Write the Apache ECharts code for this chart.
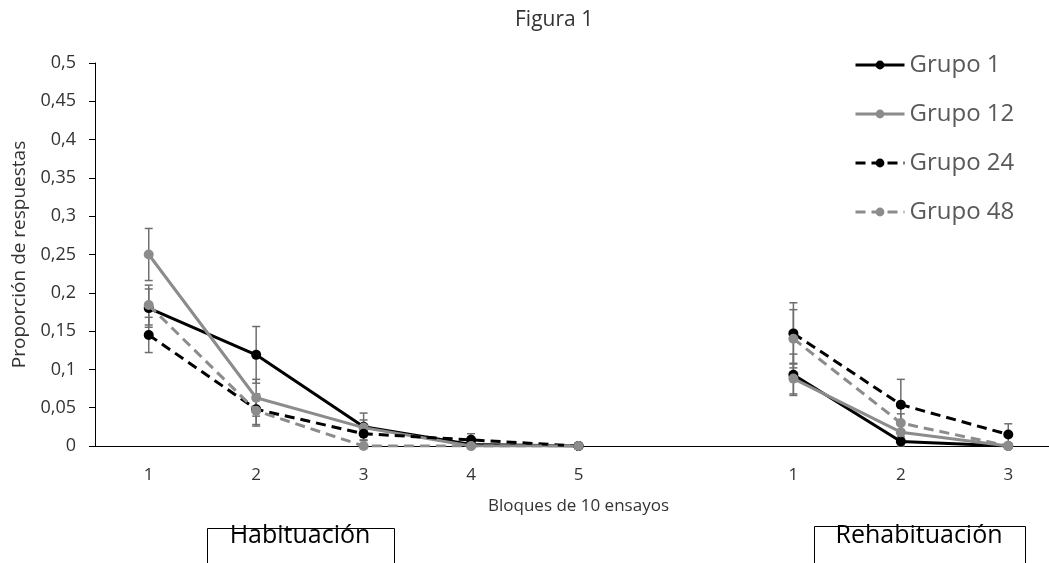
<!DOCTYPE html>
<html><head><meta charset="utf-8">
<script src="https://cdn.jsdelivr.net/npm/echarts@6/dist/echarts.min.js"></script>
<style>html,body{margin:0;padding:0;background:#fff}#c{width:1049px;height:563px}</style>
</head><body><div id="c"></div>
<script>
// Categories: Habituación blocks 1-5, blank spacer, Rehabituación blocks 1-3
const categories = ['1', '2', '3', '4', '5', '', '1', '2', '3'];
const seriesNames = ['Grupo 1', 'Grupo 12', 'Grupo 24', 'Grupo 48'];

const grupo1  = [0.180, 0.119, 0.025, 0.002, 0, '-', 0.093, 0.006, 0];
const grupo12 = [0.250, 0.063, 0.024, 0,     0, '-', 0.088, 0.018, 0];
const grupo24 = [0.145, 0.048, 0.016, 0.008, 0, '-', 0.147, 0.054, 0.015];
const grupo48 = [0.184, 0.046, 0,     0,     0, '-', 0.140, 0.030, 0];

// Error bar half-lengths (symmetric)
const err1  = [0.025, 0.037, 0.018, 0,     0, '-', 0.027, 0.006, 0];
const err12 = [0.034, 0.024, 0.010, 0,     0, '-', 0.020, 0.010, 0];
const err24 = [0.023, 0.020, 0.008, 0.008, 0, '-', 0.040, 0.033, 0.014];
const err48 = [0.026, 0.020, 0,     0,     0, '-', 0.038, 0.012, 0];

const FONT = '"Open Sans", "Noto Sans", sans-serif';
const BLACK = '#000000';
const GRAY = '#8c8c8c';
const ERR = '#6e6e6e';

const values = [grupo1, grupo12, grupo24, grupo48];
const errors = [err1, err12, err24, err48];
const colors = [BLACK, GRAY, BLACK, GRAY];
const dashes = ['solid', 'solid', [10, 6], [10, 6]];

function errData(vals, errs) {
  const out = [];
  vals.forEach(function (v, i) {
    if (v === '-' || !errs[i]) return;
    out.push([i, v - errs[i], v + errs[i]]);
  });
  return out;
}

function renderErr(params, api) {
  const x = api.value(0);
  const pHi = api.coord([x, api.value(2)]);
  const pLo = api.coord([x, api.value(1)]);
  const w = 4;
  const st = { stroke: ERR, lineWidth: 1.5 };
  return {
    type: 'group',
    children: [
      { type: 'line', shape: { x1: pHi[0], y1: pHi[1], x2: pLo[0], y2: pLo[1] }, style: st },
      { type: 'line', shape: { x1: pHi[0] - w, y1: pHi[1], x2: pHi[0] + w, y2: pHi[1] }, style: st },
      { type: 'line', shape: { x1: pLo[0] - w, y1: pLo[1], x2: pLo[0] + w, y2: pLo[1] }, style: st }
    ]
  };
}

const series = [];
values.forEach(function (vals, k) {
  series.push({
    name: 'err' + k,
    type: 'custom',
    renderItem: renderErr,
    encode: { x: 0, y: [1, 2] },
    data: errData(vals, errors[k]),
    z: 1,
    silent: true
  });
});
values.forEach(function (vals, k) {
  series.push({
    name: seriesNames[k],
    type: 'line',
    data: vals,
    symbol: 'circle',
    symbolSize: 10,
    showSymbol: true,
    connectNulls: false,
    lineStyle: { color: colors[k], width: 3, type: dashes[k] },
    itemStyle: { color: colors[k] },
    z: 2 + k
  });
});

const chart = echarts.init(document.getElementById('c'), null, { renderer: 'canvas' });
chart.setOption({
  animation: false,
  backgroundColor: '#ffffff',
  title: {
    text: 'Figura 1',
    left: 510,
    top: 5,
    textStyle: { fontFamily: FONT, fontSize: 21, fontWeight: 'normal', color: '#333333' }
  },
  legend: {
    data: seriesNames,
    orient: 'vertical',
    left: 849,
    top: 45,
    itemWidth: 49,
    itemHeight: 11,
    itemGap: 19,
    lineStyle: { width: 3 },
    textStyle: { fontFamily: FONT, fontSize: 24, color: '#595959', lineHeight: 30 }
  },
  grid: { left: 95, top: 63, width: 967, height: 383, containLabel: false, outerBoundsMode: 'none' },
  xAxis: {
    type: 'category',
    data: categories,
    boundaryGap: true,
    name: 'Bloques de 10 ensayos',
    nameLocation: 'middle',
    nameGap: 52,
    nameTextStyle: { fontFamily: FONT, fontSize: 17, color: '#333333' },
    axisLine: { lineStyle: { color: '#000000', width: 1 } },
    axisTick: { show: false },
    axisLabel: { fontFamily: FONT, fontSize: 17, color: '#333333', margin: 21, interval: 0 }
  },
  yAxis: {
    type: 'value',
    min: 0,
    max: 0.5,
    interval: 0.05,
    name: 'Proporción de respuestas',
    nameLocation: 'middle',
    nameGap: 65,
    nameTextStyle: { fontFamily: FONT, fontSize: 19, color: '#333333' },
    axisLine: { show: true, lineStyle: { color: '#000000', width: 1 } },
    axisTick: { show: true, length: 6, lineStyle: { color: '#000000' } },
    splitLine: { show: false },
    axisLabel: {
      fontFamily: FONT, fontSize: 18, color: '#333333', margin: 19,
      formatter: function (v) { return String(Math.round(v * 100) / 100).replace('.', ','); }
    }
  },
  graphic: [
    { type: 'rect', shape: { x: 207.5, y: 528.5, width: 187, height: 60 },
      style: { fill: '#ffffff', stroke: '#000000', lineWidth: 1 } },
    { type: 'text', x: 300, y: 536, style: { text: 'Habituación', font: '25px "Open Sans", sans-serif',
      fill: '#000000', align: 'center', verticalAlign: 'middle' } },
    { type: 'rect', shape: { x: 814.5, y: 526.5, width: 211, height: 60 },
      style: { fill: '#ffffff', stroke: '#000000', lineWidth: 1 } },
    { type: 'text', x: 919, y: 536, style: { text: 'Rehabituación', font: '25px "Open Sans", sans-serif',
      fill: '#000000', align: 'center', verticalAlign: 'middle' } }
  ],
  series: series
});
</script>
</body></html>
